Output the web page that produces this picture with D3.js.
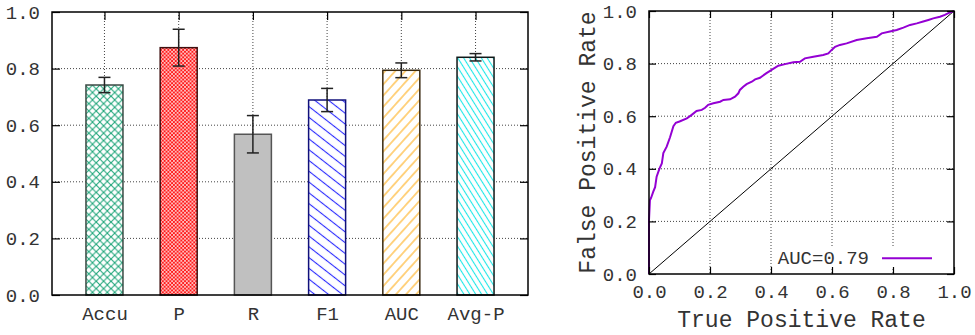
<!DOCTYPE html>
<html>
<head>
<meta charset="utf-8">
<script src="https://cdn.jsdelivr.net/npm/d3@7"></script>
<style>
  body { margin: 0; background: #fff; }
  text { font-family: "Liberation Mono", "DejaVu Sans Mono", monospace; fill: #333; }
</style>
</head>
<body>
<div id="chart"></div>
<script>
// bar chart data
const categories = ['Accu', 'P', 'R', 'F1', 'AUC', 'Avg-P']
const meanValues = [0.742, 0.874, 0.568, 0.689, 0.794, 0.840]
const errValues = [0.027, 0.065, 0.066, 0.041, 0.026, 0.013]
const yTicks = [0, 0.2, 0.4, 0.6, 0.8, 1.0]

// roc curve data
const rocX = [0, 0.0, 0.003, 0.007, 0.014, 0.02, 0.025, 0.034, 0.042, 0.047, 0.058, 0.069, 0.08, 0.088, 0.10,
  0.124, 0.14, 0.156, 0.173, 0.184, 0.194, 0.211, 0.233, 0.244, 0.266, 0.282, 0.293, 0.298, 0.309, 0.32,
  0.337, 0.348, 0.364, 0.384, 0.402, 0.424, 0.446, 0.473, 0.495, 0.511, 0.539, 0.571, 0.588, 0.599, 0.61,
  0.626, 0.648, 0.681, 0.714, 0.747, 0.763, 0.79, 0.812, 0.834, 0.856, 0.878, 0.899, 0.916, 0.932, 0.954,
  0.97, 0.987, 1]
const rocY = [0, 0.205, 0.28, 0.29, 0.313, 0.33, 0.37, 0.40, 0.42, 0.46, 0.484, 0.52, 0.562, 0.575, 0.58,
  0.592, 0.605, 0.62, 0.624, 0.632, 0.643, 0.649, 0.655, 0.662, 0.664, 0.674, 0.687, 0.70, 0.712, 0.722,
  0.731, 0.74, 0.746, 0.763, 0.776, 0.792, 0.798, 0.805, 0.807, 0.82, 0.826, 0.833, 0.839, 0.852, 0.864,
  0.871, 0.877, 0.89, 0.896, 0.902, 0.915, 0.922, 0.928, 0.937, 0.947, 0.953, 0.96, 0.966, 0.972, 0.978,
  0.985, 0.995, 1]
const rocTicks = [0, 0.2, 0.4, 0.6, 0.8, 1.0]
const aucLabel = 'AUC=0.79'

const width = 975, height = 335
const svg = d3.select('#chart').append('svg')
  .attr('width', width)
  .attr('height', height)

// hatch patterns for the bars
const defs = svg.append('defs')
function hatch(id, color, size, angles, sw) {
  const p = defs.append('pattern')
    .attr('id', id)
    .attr('patternUnits', 'userSpaceOnUse')
    .attr('width', size).attr('height', size)
  p.append('rect').attr('width', size).attr('height', size).attr('fill', '#fff')
  angles.forEach(a => {
    if (a === '/') {
      p.append('path').attr('d', `M0,${size} L${size},0 M${-size},${size} L0,0 M${size},${2 * size} L${2 * size},${size}`)
        .attr('stroke', color).attr('stroke-width', sw)
    } else {
      p.append('path').attr('d', `M0,0 L${size},${size} M${-size},0 L0,${size} M${size},${-size} L${2 * size},${0}`)
        .attr('stroke', color).attr('stroke-width', sw)
    }
  })
}
function lines(id, color, spacing, angle, sw) {
  const p = defs.append('pattern')
    .attr('id', id)
    .attr('patternUnits', 'userSpaceOnUse')
    .attr('width', spacing).attr('height', spacing)
    .attr('patternTransform', `rotate(${angle})`)
  p.append('rect').attr('width', spacing).attr('height', spacing).attr('fill', '#fff')
  p.append('line').attr('x1', 0).attr('x2', spacing).attr('y1', spacing / 2).attr('y2', spacing / 2)
    .attr('stroke', color).attr('stroke-width', sw)
}
hatch('pAccu', '#1fa67a', 7.4, ['/', '\\'], 1.1)
hatch('pP', '#ff1010', 3.7, ['/', '\\'], 1)
lines('pF1', '#2a2aff', 8.5, 38, 1.1)
lines('pAUC', '#ffb020', 7.5, -48, 1.1)
lines('pAvg', '#20e8e8', 5, 58, 1.1)
const fills = ['url(#pAccu)', 'url(#pP)', '#c0c0c0', 'url(#pF1)', 'url(#pAUC)', 'url(#pAvg)']
const borders = ['#3a4a44', '#401010', '#555555', '#10107a', '#3a2a10', '#101818']

const fontSize = 19

// ---------- left: bar chart ----------
const L = { left: 52, right: 528, top: 12, bottom: 295 }
const xBar = d3.scalePoint().domain(categories).range([L.left, L.right]).padding(0.707)
const yBar = d3.scaleLinear().domain([0, 1]).range([L.bottom, L.top])
const barW = 37

const gL = svg.append('g')

// grid
gL.selectAll('.hgrid').data(yTicks.slice(1, -1)).enter().append('line')
  .attr('x1', L.left).attr('x2', L.right)
  .attr('y1', d => yBar(d)).attr('y2', d => yBar(d))
  .attr('stroke', '#444').attr('stroke-dasharray', '1,2')
gL.selectAll('.vgrid').data(categories).enter().append('line')
  .attr('x1', d => xBar(d)).attr('x2', d => xBar(d))
  .attr('y1', L.top).attr('y2', L.bottom)
  .attr('stroke', '#444').attr('stroke-dasharray', '1,2')

// bars
gL.selectAll('.bar').data(categories).enter().append('rect')
  .attr('x', d => xBar(d) - barW / 2)
  .attr('width', barW)
  .attr('y', (d, i) => yBar(meanValues[i]))
  .attr('height', (d, i) => yBar(0) - yBar(meanValues[i]))
  .attr('fill', (d, i) => fills[i])
  .attr('stroke', (d, i) => borders[i])
  .attr('stroke-width', 1.5)

// error bars
const eb = gL.selectAll('.err').data(categories).enter().append('g')
  .attr('stroke', '#222').attr('stroke-width', 1.5)
eb.append('line')
  .attr('x1', d => xBar(d)).attr('x2', d => xBar(d))
  .attr('y1', (d, i) => yBar(meanValues[i] + errValues[i]))
  .attr('y2', (d, i) => yBar(meanValues[i] - errValues[i]))
eb.append('line')
  .attr('x1', d => xBar(d) - 6).attr('x2', d => xBar(d) + 6)
  .attr('y1', (d, i) => yBar(meanValues[i] + errValues[i]))
  .attr('y2', (d, i) => yBar(meanValues[i] + errValues[i]))
eb.append('line')
  .attr('x1', d => xBar(d) - 6).attr('x2', d => xBar(d) + 6)
  .attr('y1', (d, i) => yBar(meanValues[i] - errValues[i]))
  .attr('y2', (d, i) => yBar(meanValues[i] - errValues[i]))

// axes
function styleAxis(g) {
  g.select('.domain').remove()
  g.selectAll('.tick line').attr('stroke', '#000').attr('stroke-width', 1.2)
  g.selectAll('text').attr('font-size', fontSize).attr('fill', '#333')
    .style('font-family', '"Liberation Mono", monospace')
}
gL.append('g').attr('transform', `translate(${L.left},0)`)
  .call(d3.axisLeft(yBar).tickValues(yTicks).tickFormat(d3.format('.1f')).tickSize(-8).tickPadding(12))
  .call(styleAxis)
gL.append('g').attr('transform', `translate(${L.right},0)`)
  .call(d3.axisRight(yBar).tickValues(yTicks).tickFormat('').tickSize(-8))
  .call(styleAxis)
gL.append('g').attr('transform', `translate(0,${L.bottom})`)
  .call(d3.axisBottom(xBar).tickSize(0).tickPadding(11.5))
  .call(styleAxis)
gL.append('g').attr('transform', `translate(0,${L.top})`)
  .call(d3.axisTop(xBar).tickSize(-8).tickFormat(''))
  .call(styleAxis)
gL.append('rect')
  .attr('x', L.left).attr('y', L.top)
  .attr('width', L.right - L.left).attr('height', L.bottom - L.top)
  .attr('fill', 'none').attr('stroke', '#000').attr('stroke-width', 1.5)

// ---------- right: ROC curve ----------
const R = { left: 649, right: 954, top: 11, bottom: 274 }
const xRoc = d3.scaleLinear().domain([0, 1]).range([R.left, R.right])
const yRoc = d3.scaleLinear().domain([0, 1]).range([R.bottom, R.top])
const gR = svg.append('g')

gR.selectAll('.hgrid').data(rocTicks.slice(1, -1)).enter().append('line')
  .attr('x1', R.left).attr('x2', R.right)
  .attr('y1', d => yRoc(d)).attr('y2', d => yRoc(d))
  .attr('stroke', '#444').attr('stroke-dasharray', '1,2')
gR.selectAll('.vgrid').data(rocTicks.slice(1, -1)).enter().append('line')
  .attr('x1', d => xRoc(d)).attr('x2', d => xRoc(d))
  .attr('y1', R.top).attr('y2', R.bottom)
  .attr('stroke', '#444').attr('stroke-dasharray', '1,2')

// legend background to cut the grid
const legendY = yRoc(0.06)
gR.append('rect')
  .attr('x', 778).attr('y', legendY - 11)
  .attr('width', 160).attr('height', 20)
  .attr('fill', '#fff')

// diagonal
gR.append('line')
  .attr('x1', xRoc(0)).attr('y1', yRoc(0))
  .attr('x2', xRoc(1)).attr('y2', yRoc(1))
  .attr('stroke', '#000').attr('stroke-width', 1)

// curve
const rocPts = rocX.map((x, i) => [x, rocY[i]])
gR.append('path')
  .datum(rocPts)
  .attr('d', d3.line().x(d => xRoc(d[0])).y(d => yRoc(d[1])))
  .attr('fill', 'none')
  .attr('stroke', '#9400d3')
  .attr('stroke-width', 2)

// axes
gR.append('g').attr('transform', `translate(${R.left},0)`)
  .call(d3.axisLeft(yRoc).tickValues(rocTicks).tickFormat(d3.format('.1f')).tickSize(-7).tickPadding(12))
  .call(styleAxis)
gR.append('g').attr('transform', `translate(${R.right},0)`)
  .call(d3.axisRight(yRoc).tickValues(rocTicks).tickFormat('').tickSize(-7))
  .call(styleAxis)
gR.append('g').attr('transform', `translate(0,${R.bottom})`)
  .call(d3.axisBottom(xRoc).tickValues(rocTicks).tickFormat(d3.format('.1f')).tickSize(-7).tickPadding(10.5))
  .call(styleAxis)
gR.append('g').attr('transform', `translate(0,${R.top})`)
  .call(d3.axisTop(xRoc).tickValues(rocTicks).tickFormat('').tickSize(-7))
  .call(styleAxis)
gR.append('rect')
  .attr('x', R.left).attr('y', R.top)
  .attr('width', R.right - R.left).attr('height', R.bottom - R.top)
  .attr('fill', 'none').attr('stroke', '#000').attr('stroke-width', 1.5)

// legend
gR.append('text')
  .attr('x', 869).attr('y', legendY + 6)
  .attr('text-anchor', 'end')
  .attr('font-size', fontSize)
  .text(aucLabel)
gR.append('line')
  .attr('x1', 882).attr('x2', 932)
  .attr('y1', legendY).attr('y2', legendY)
  .attr('stroke', '#9400d3').attr('stroke-width', 2)

// axis titles
gR.append('text')
  .attr('x', (R.left + R.right) / 2).attr('y', 327)
  .attr('text-anchor', 'middle')
  .attr('font-size', 23)
  .text('True Positive Rate')
gR.append('text')
  .attr('transform', `translate(595,${(R.top + R.bottom) / 2}) rotate(-90)`)
  .attr('text-anchor', 'middle')
  .attr('font-size', 23)
  .text('False Positive Rate')
</script>
</body>
</html>
